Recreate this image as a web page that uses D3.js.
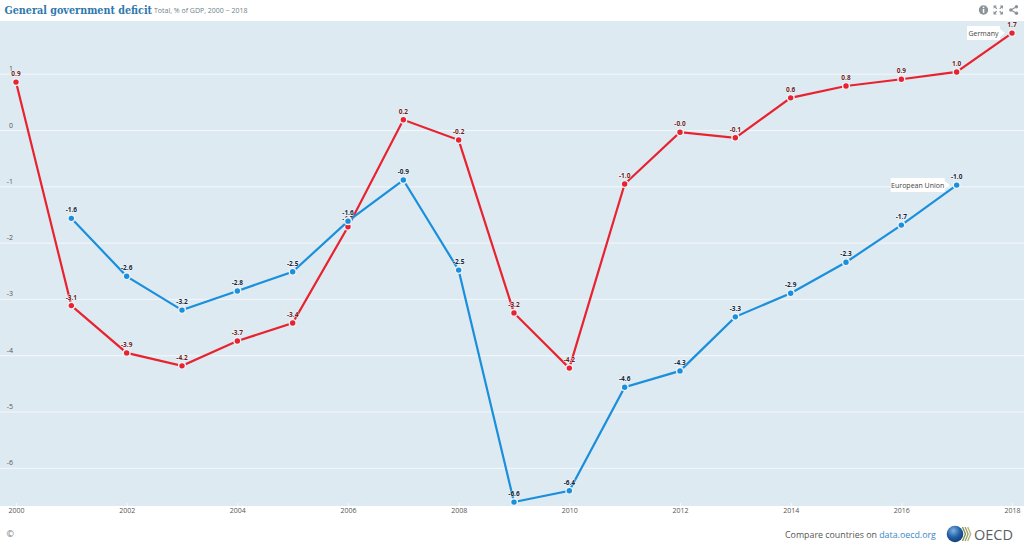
<!DOCTYPE html>
<html>
<head>
<meta charset="utf-8">
<script src="https://cdn.jsdelivr.net/npm/d3@7"></script>
<style>
html, body { margin:0; padding:0; background:#fff; overflow:hidden; }
text { font-family:"Open Sans", sans-serif; }
</style>
</head>
<body>
<div id="chart"></div>
<script>
// =====================================================================
// data
var years = [2000,2001,2002,2003,2004,2005,2006,2007,2008,2009,2010,2011,2012,2013,2014,2015,2016,2017,2018];
var germany = [0.86,-3.11,-3.95,-4.18,-3.74,-3.42,-1.71,0.19,-0.17,-3.24,-4.22,-0.95,-0.03,-0.13,0.58,0.79,0.91,1.04,1.73];
var germanyLabels = ["0.9","-3.1","-3.9","-4.2","-3.7","-3.4","-1.7","0.2","-0.2","-3.2","-4.2","-1.0","-0.0","-0.1","0.6","0.8","0.9","1.0","1.7"];
var eu = [null,-1.56,-2.59,-3.19,-2.85,-2.51,-1.61,-0.88,-2.48,-6.6,-6.4,-4.56,-4.27,-3.31,-2.89,-2.34,-1.68,-0.97,null];
var euLabels = ["","-1.6","-2.6","-3.2","-2.8","-2.5","-1.6","-0.9","-2.5","-6.6","-6.4","-4.6","-4.3","-3.3","-2.9","-2.3","-1.7","-1.0",""];
var yTicks = [1,0,-1,-2,-3,-4,-5,-6];
var xTicks = [2000,2002,2004,2006,2008,2010,2012,2014,2016,2018];

var width = 1024, height = 543;
var plot = { left:0, right:1024, top:21, bottom:506 };
var red = "#e8222e", blue = "#1a8fdc";

var svg = d3.select("#chart").append("svg")
    .attr("width", width).attr("height", height)
    .style("display", "block");

// scales
var x = d3.scaleLinear().domain([2000, 2018]).range([16, 1012]);
var y = d3.scaleLinear().domain([0, -6]).range([130.5, 468.3]);

// plot background
svg.append("rect")
    .attr("x", plot.left).attr("y", plot.top)
    .attr("width", plot.right - plot.left).attr("height", plot.bottom - plot.top)
    .attr("fill", "#deeaf2");

// grid lines + y labels
svg.selectAll(".grid").data(yTicks).enter().append("line")
    .attr("class", "grid")
    .attr("x1", plot.left).attr("x2", plot.right)
    .attr("y1", function(d){ return y(d); }).attr("y2", function(d){ return y(d); })
    .attr("stroke", "#f4f8fb").attr("stroke-width", 1);

svg.selectAll(".ylab").data(yTicks).enter().append("text")
    .attr("class", "ylab")
    .attr("x", 13).attr("y", function(d){ return y(d) - 3; })
    .attr("text-anchor", "end")
    .attr("font-size", 7).attr("fill", "#555")
    .text(function(d){ return d; });

// x axis
var xAxis = d3.axisBottom(x).tickValues(xTicks).tickFormat(d3.format("d")).tickSize(3).tickPadding(2);
var gx = svg.append("g").attr("transform", "translate(0," + (plot.bottom - 3) + ")").call(xAxis);
gx.select(".domain").remove();
gx.selectAll(".tick line").attr("stroke", "#f4f8fb");
gx.selectAll(".tick text").attr("font-size", 7).attr("fill", "#555").attr("font-family", "'Open Sans', sans-serif");

// series
var series = [
    { name:"Germany", values:germany, labels:germanyLabels, color:red, text:"#6b1f25" },
    { name:"European Union", values:eu, labels:euLabels, color:blue, text:"#14283a" }
];
var line = d3.line()
    .defined(function(d){ return d.v !== null; })
    .x(function(d){ return x(d.year); })
    .y(function(d){ return y(d.v); });

series.forEach(function(s){
    var pts = years.map(function(yr, i){ return { year:yr, v:s.values[i], label:s.labels[i] }; })
        .filter(function(d){ return d.v !== null; });
    var g = svg.append("g");
    g.append("path").datum(pts)
        .attr("d", line).attr("fill", "none")
        .attr("stroke", s.color).attr("stroke-width", 2.2);
    g.selectAll("circle").data(pts).enter().append("circle")
        .attr("cx", function(d){ return x(d.year); })
        .attr("cy", function(d){ return y(d.v); })
        .attr("r", 3.4)
        .attr("fill", s.color)
        .attr("stroke", "#eaf2f7").attr("stroke-width", 1.4);
    g.selectAll("text").data(pts).enter().append("text")
        .attr("x", function(d){ return x(d.year); })
        .attr("y", function(d){ return y(d.v) - 6; })
        .attr("text-anchor", "middle")
        .attr("font-size", 6.5).attr("font-weight", 700)
        .attr("fill", s.text)
        .attr("stroke", "#ffffff").attr("stroke-width", 1.2).attr("stroke-opacity", 0.6)
        .attr("paint-order", "stroke")
        .text(function(d){ return d.label; });
});

// series name callouts, placed left of the last point
function callout(name, yr, val, w) {
    var px = x(yr), py = y(val);
    var g = svg.append("g").attr("transform", "translate(" + (px - 7) + "," + py + ")");
    g.append("path")
        .attr("d", "M0,0 L-5,-4 L-5,-7 L" + (-5 - w) + ",-7 L" + (-5 - w) + ",7 L-5,7 L-5,4 Z")
        .attr("fill", "#fff");
    g.append("text").attr("x", -5 - w / 2).attr("y", 2.5)
        .attr("text-anchor", "middle")
        .attr("font-size", 7).attr("fill", "#444")
        .text(name);
}
callout("Germany", 2018, germany[18], 33);
callout("European Union", 2017, eu[17], 54);

// header
svg.append("text").attr("x", 4.5).attr("y", 14)
    .style("font-family", "'DejaVu Serif Condensed', 'DejaVu Serif', serif")
    .style("font-stretch", "condensed")
    .attr("font-size", 10.7).attr("font-weight", 700).attr("fill", "#2f78ad")
    .text("General government deficit");
svg.append("text").attr("x", 154).attr("y", 12.5)
    .attr("font-size", 7).attr("fill", "#6f7f8a")
    .text("Total, % of GDP, 2000 \u2212 2018");

// header icons
var ic = svg.append("g").attr("fill", "#8d9499");
ic.append("circle").attr("cx", 983.5).attr("cy", 10).attr("r", 4.7);
ic.append("rect").attr("x", 982.8).attr("y", 9).attr("width", 1.5).attr("height", 3.8).attr("fill", "#fff");
ic.append("rect").attr("x", 982.8).attr("y", 6.7).attr("width", 1.5).attr("height", 1.4).attr("fill", "#fff");
ic.append("path")
    .attr("d", "M993.5,5.5h3.4l-1.2,1.2l1.6,1.6l-.9.9l-1.6-1.6l-1.2,1.2z M1003,5.5v3.4l-1.2-1.2l-1.6,1.6l-.9-.9l1.6-1.6l-1.2-1.2z M1003,14.5h-3.4l1.2-1.2l-1.6-1.6l.9-.9l1.6,1.6l1.2-1.2z M993.5,14.5v-3.4l1.2,1.2l1.6-1.6l.9.9l-1.6,1.6l1.2,1.2z");
ic.append("path").attr("d", "M1016,7 L1011,10 L1016,13").attr("fill", "none").attr("stroke", "#8d9499").attr("stroke-width", 1.2);
ic.append("circle").attr("cx", 1016.5).attr("cy", 6.8).attr("r", 1.7);
ic.append("circle").attr("cx", 1016.5).attr("cy", 13.2).attr("r", 1.7);
ic.append("circle").attr("cx", 1010.8).attr("cy", 10).attr("r", 1.7);

// footer
svg.append("text").attr("x", 6.5).attr("y", 537)
    .attr("font-size", 9).attr("fill", "#777").text("\u00a9");
var cmp = svg.append("text").attr("x", 785).attr("y", 538).attr("font-size", 8.85).attr("fill", "#555");
cmp.append("tspan").text("Compare countries on ");
cmp.append("tspan").attr("fill", "#3b87c4").text("data.oecd.org");

// OECD logo
var defs = svg.append("defs");
var grad = defs.append("radialGradient").attr("id", "globe").attr("cx", "40%").attr("cy", "30%").attr("r", "75%");
grad.append("stop").attr("offset", "0%").attr("stop-color", "#7fb2de");
grad.append("stop").attr("offset", "55%").attr("stop-color", "#1f5fa6");
grad.append("stop").attr("offset", "100%").attr("stop-color", "#123a70");
svg.append("circle").attr("cx", 955).attr("cy", 534).attr("r", 8.3).attr("fill", "url(#globe)");
[0, 2.6, 5.2].forEach(function(d, i){
    svg.append("path")
        .attr("d", "M" + (962.5 + d) + ",527 L" + (965.5 + d) + ",534 L" + (962.5 + d) + ",541")
        .attr("fill", "none")
        .attr("stroke", ["#8a8f52", "#a0a264", "#b5b684"][i])
        .attr("stroke-width", 1.4);
});
svg.append("text").attr("x", 974).attr("y", 539.5)
    .attr("font-size", 14.5).attr("fill", "#5b6066").text("OECD");
</script>
</body>
</html>
